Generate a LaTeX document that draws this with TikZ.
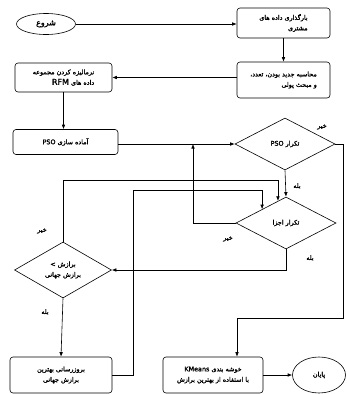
\documentclass[tikz,border=0pt]{standalone}
\usepackage{fontspec}
\usepackage{tikz}
\usetikzlibrary{shapes.geometric, arrows.meta, positioning, calc}
\TeXXeTstate=1
\newfontfamily\farsi[Script=Arabic, FakeBold=1.6]{DejaVu Sans}
\newfontfamily\latinsym[FakeBold=1.6]{DejaVu Sans}
\newcommand{\fatxt}[1]{\beginR #1\endR}
\newcommand{\boxfont}{\farsi\fontsize{6.4}{10.5}\selectfont}
\tikzset{
  pbox/.style={rectangle, draw=black, fill=white, rounded corners=3pt,
    line width=0.6pt, inner sep=2pt, font=\boxfont},
  decide/.style={diamond, draw=black, fill=white, aspect=2, inner sep=0pt,
    line width=0.6pt, font=\boxfont},
  term/.style={ellipse, draw=black, fill=white, inner sep=0pt,
    line width=0.6pt, font=\boxfont},
  arrow/.style={-{Latex[length=4.5pt,width=3.6pt]}, line width=0.6pt, color=black},
  line/.style={line width=0.6pt, color=black},
  lbl/.style={font=\boxfont}
}

\begin{document}
\begin{tikzpicture}[x=1pt, y=-1pt]
  \useasboundingbox (0,0) rectangle (346,394);

  % Terminals
  \node[term, minimum width=59pt, minimum height=21pt, font=\farsi\fontsize{8}{10}\selectfont] (start) at (46,24) {\fatxt{شروع}};
  \node[term, minimum width=53pt, minimum height=36pt] (finish) at (319,375) {\fatxt{پایان}};

  % Process boxes
  \node[pbox, minimum width=93pt, minimum height=30pt, align=right] (load) at (283.5,23) {\fatxt{بارگذاری داده های}\\\fatxt{مشتری}};
  \node[pbox, minimum width=93pt, minimum height=36pt, align=right] (rfmcalc) at (283.5,80) {\fatxt{محاسبه جدید بودن، تعدد،}\\\fatxt{و مبحث پولی}};
  \node[pbox, minimum width=97pt, minimum height=29pt, align=right] (norm) at (63.5,77.5) {\fatxt{نرمالیزه کردن مجموعه}\\\fatxt{داده های \beginL\fontsize{8}{10}\selectfont RFM\endL}};
  \node[pbox, minimum width=105pt, minimum height=25pt] (init) at (65.5,142) {\fatxt{آماده سازی \beginL PSO\endL}};
  \node[pbox, minimum width=102pt, minimum height=36pt, align=center] (update) at (61,375) {\fatxt{بروزرسانی بهترین}\\\fatxt{برازش جهانی}};
  \node[pbox, minimum width=100pt, minimum height=36pt, align=center] (kmeans) at (213,375) {\fatxt{خوشه بندی \beginL KMeans\endL}\\\fatxt{با استفاده از بهترین برازش}};

  % Decisions
  \node[decide, minimum width=100pt, minimum height=52pt] (psoit) at (285,144) {\fatxt{تکرار \beginL PSO\endL}};
  \node[decide, minimum width=100pt, minimum height=52pt] (partit) at (286,223) {\fatxt{تکرار اجزا}};
  \node[decide, minimum width=97pt, minimum height=56pt, align=center] (cmp) at (63,270) {\hbox{\latinsym\fontsize{6.4}{10.5}\selectfont <}\ \fatxt{برازش}\\\fatxt{برازش جهانی}};

  % Branch labels
  \node[lbl] (noPso) at (322,127) {\fatxt{خیر}};
  \node[lbl] (yesPso) at (297,186) {\fatxt{بله}};
  \node[lbl] (noPart) at (228,239) {\fatxt{خیر}};
  \node[lbl] (yesPart) at (310,258) {\fatxt{بله}};
  \node[lbl] (noCmp) at (42,231) {\fatxt{خیر}};
  \node[lbl] (yesCmp) at (45,312) {\fatxt{بله}};

  % Helper points for elbow connectors
  \coordinate (psoout) at (343,318);
  \coordinate (kin) at (237,318);
  \coordinate (partback) at (193,144);
  \coordinate (ulift) at (133,190);

  % Main flow
  \draw[arrow] (start.east) -- (start.east -| load.west);
  \draw[arrow] (load.south) -- (load.south |- rfmcalc.north);
  \draw[arrow] (norm.east -| rfmcalc.west) -- (norm.east);
  \draw[arrow] (norm.south) -- (norm.south |- init.north);
  \draw[arrow] (init.east |- psoit.west) -- (psoit.west);
  \draw[arrow] (psoit.south) -- (partit.north);
  \draw[arrow] (partit.south) |- (cmp.east);
  \draw[arrow] (cmp.south) -- (update.north);
  \draw[arrow] (kmeans.east) -- (finish.west);

  % Loops back
  \draw[arrow] (partit.west) -| (partback);
  \draw[arrow] (cmp.north) |- (partit.110 |- 0,180) -- (partit.110);
  \draw[arrow] (update.east) -| (ulift) -- (ulift -| partit.150) -- (partit.150);
  \draw[arrow] (psoit.east) -| (psoout) -- (kin) -- (kin |- kmeans.north);
\end{tikzpicture}
\end{document}
